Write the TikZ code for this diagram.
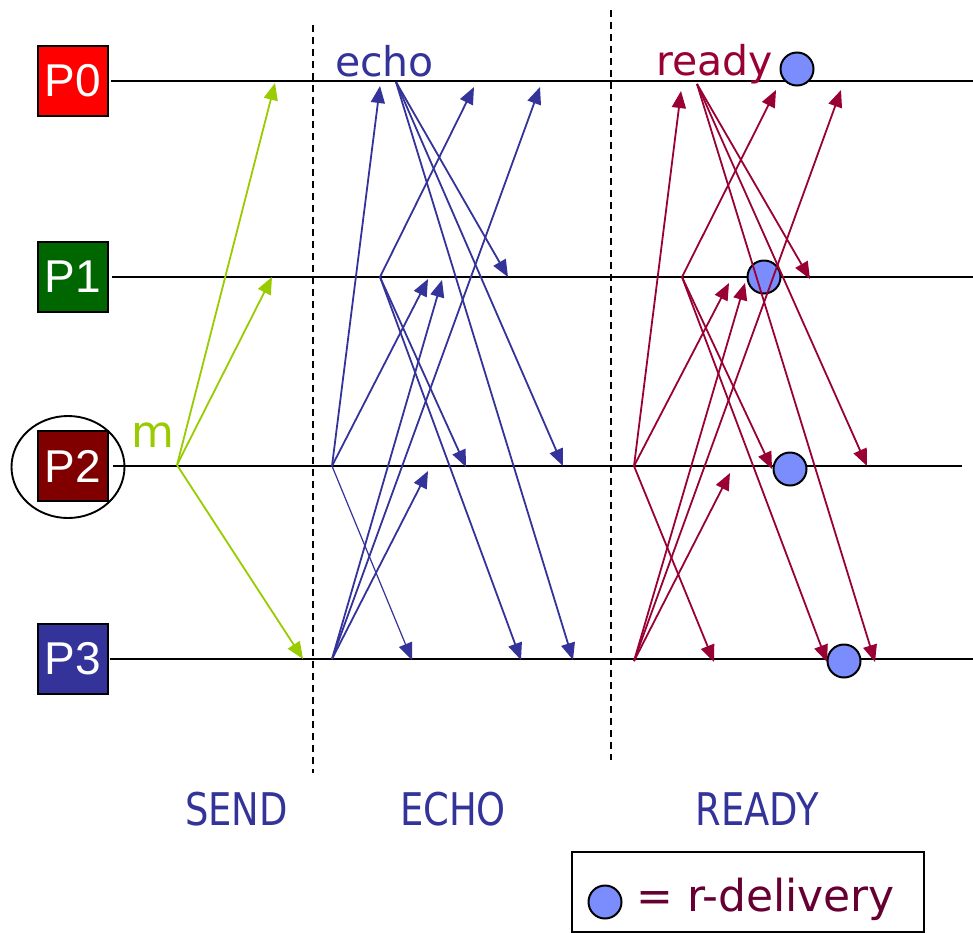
\documentclass[tikz,border=0pt]{standalone}
\usepackage{fontspec}
\usetikzlibrary{arrows.meta,shapes.geometric}
\newfontfamily\dvfont{DejaVu Sans}
\newfontfamily\dvcfont[FakeStretch=0.82]{DejaVu Sans}
\newfontfamily\arfont{Liberation Sans}
\definecolor{pzero}{HTML}{FF0000}
\definecolor{pone}{HTML}{006600}
\definecolor{ptwo}{HTML}{800000}
\definecolor{pthree}{HTML}{333399}
\definecolor{sendcol}{HTML}{99CC00}
\definecolor{echocol}{HTML}{333399}
\definecolor{readycol}{HTML}{990033}
\definecolor{legendcol}{HTML}{660033}
\definecolor{dotcol}{HTML}{7B8CFC}
\tikzset{
  pbox/.style={draw=black, line width=1.6pt, minimum size=70pt, inner sep=0pt,
    text=white, font=\arfont\fontsize{46}{46}\selectfont},
  procline/.style={line width=1.9pt, black},
  phase/.style={line width=1.6pt, black, dash pattern=on 7pt off 5pt},
  msg/.style={line width=1.8pt, -{Triangle[length=17pt, width=14pt]}},
  sendmsg/.style={msg, sendcol},
  echomsg/.style={msg, echocol},
  readymsg/.style={msg, readycol},
  rdot/.style={circle, draw=black, line width=2pt, fill=dotcol, minimum size=33pt, inner sep=0pt},
  phaselabel/.style={anchor=base, inner sep=0pt, text=echocol, font=\dvcfont\fontsize{45}{45}\selectfont},
  word/.style={anchor=base west, inner sep=0pt, font=\dvfont\fontsize{41}{41}\selectfont}
}
\begin{document}
\begin{tikzpicture}[x=1pt, y=-1pt]
\useasboundingbox (0,0) rectangle (973,932);
\fill[white] (0,0) rectangle (973,932);

% processes
\node[pbox, fill=pzero]  (P0) at (73,81)  {P0};
\node[pbox, fill=pone]   (P1) at (73,277) {P1};
\node[pbox, fill=ptwo]   (P2) at (73,466) {P2};
\node[pbox, fill=pthree] (P3) at (73,659) {P3};
\node[ellipse, draw=black, line width=1.9pt, minimum width=113pt, minimum height=102pt, inner sep=0pt] (ring) at (68,467) {};

% time lines
\coordinate (L0) at (973,81);
\coordinate (L1) at (973,277);
\coordinate (L2) at (962,466);
\coordinate (L3) at (973,659);
\draw[procline] ([xshift=2pt]P0.east) -- (L0);
\draw[procline] ([xshift=3pt]P1.east) -- (L1);
\draw[procline] ([xshift=4pt]P2.east) -- (L2);
\draw[procline] ([xshift=1pt]P3.east) -- (L3);

% phase separators
\coordinate (d1t) at (313,25);
\coordinate (d1b) at (313,773);
\coordinate (d2t) at (611,10);
\coordinate (d2b) at (611,760);
\draw[phase] (d1t) -- (d1b);
\draw[phase] (d2t) -- (d2b);

% delivery dots
\node[rdot] (dv0) at (797,69) {};
\node[rdot] (dv1) at (764,277) {};
\node[rdot] (dv2) at (790,469) {};
\node[rdot] (dv3) at (844,661) {};

% SEND phase
\coordinate (s2) at (177,465);
\coordinate (s2to0) at (275,83);
\coordinate (s2to1) at (272,277);
\coordinate (s2to3) at (303,659);
\draw[sendmsg] (s2) -- (s2to0);
\draw[sendmsg] (s2) -- (s2to1);
\draw[sendmsg] (s2) -- (s2to3);
\node[word, text=sendcol, font=\dvfont\fontsize{44}{44}\selectfont] (mlab) at (131,447) {m};

% ECHO phase
\coordinate (e0) at (396,82);
\coordinate (e1) at (380,277);
\coordinate (e2) at (332,466);
\coordinate (e3) at (332,659);
\coordinate (e2to0) at (380,86);
\coordinate (e2to1) at (428,279);
\coordinate (e2to3) at (412,660);
\coordinate (e3to2) at (428,471);
\coordinate (e3to1) at (442,280);
\coordinate (e3to0) at (540,87);
\coordinate (e1to0) at (474,87);
\coordinate (e1to2) at (466,467);
\coordinate (e1to3) at (521,660);
\coordinate (e0to1) at (508,277);
\coordinate (e0to2) at (563,466);
\coordinate (e0to3) at (573,660);
\draw[echomsg] (e2) -- (e2to0);
\draw[echomsg] (e2) -- (e2to1);
\draw[echomsg, line width=1.2pt] (e2) -- (e2to3);
\draw[echomsg] (e3) -- (e3to2);
\draw[echomsg] (e3) -- (e3to1);
\draw[echomsg] (e3) -- (e3to0);
\draw[echomsg] (e1) -- (e1to0);
\draw[echomsg] (e1) -- (e1to2);
\draw[echomsg] (e1) -- (e1to3);
\draw[echomsg] (e0) -- (e0to1);
\draw[echomsg] (e0) -- (e0to2);
\draw[echomsg] (e0) -- (e0to3);
\node[word, text=echocol] (echolab) at (335,76) {echo};

% READY phase
\coordinate (r0) at (697,84);
\coordinate (r1) at (682,277);
\coordinate (r2) at (634,466);
\coordinate (r3) at (634,661);
\coordinate (r2to0) at (681,91);
\coordinate (r2to1) at (729,283);
\coordinate (r2to3) at (714,662);
\coordinate (r3to2) at (730,473);
\coordinate (r3to1) at (745,283);
\coordinate (r3to0) at (841,90);
\coordinate (r1to0) at (776,90);
\coordinate (r1to2) at (772,469);
\coordinate (r1to3) at (827,662);
\coordinate (r0to1) at (810,279);
\coordinate (r0to2) at (867,466);
\coordinate (r0to3) at (875,662);
\draw[readymsg] (r2) -- (r2to0);
\draw[readymsg] (r2) -- (r2to1);
\draw[readymsg] (r2) -- (r2to3);
\draw[readymsg] (r3) -- (r3to2);
\draw[readymsg] (r3) -- (r3to1);
\draw[readymsg] (r3) -- (r3to0);
\draw[readymsg] (r1) -- (r1to0);
\draw[readymsg] (r1) -- (r1to2);
\draw[readymsg] (r1) -- (r1to3);
\draw[readymsg] (r0) -- (r0to1);
\draw[readymsg] (r0) -- (r0to2);
\draw[readymsg] (r0) -- (r0to3);
\node[word, text=readycol] (readylab) at (656,75) {ready};

% phase names
\node[phaselabel] (sendlab) at (236.5,825) {SEND};
\node[phaselabel] (echophase) at (453,825) {ECHO};
\node[phaselabel] (readyphase) at (757,825) {READY};

% legend
\node[draw=black, line width=1.5pt, minimum width=352pt, minimum height=80pt, inner sep=0pt] (legend) at (748,892) {};
\node[rdot] (legdot) at (605,902) {};
\node[word, text=legendcol, font=\dvfont\fontsize{44}{44}\selectfont] (legtext) at (636,911) {= r-delivery};
\end{tikzpicture}
\end{document}
